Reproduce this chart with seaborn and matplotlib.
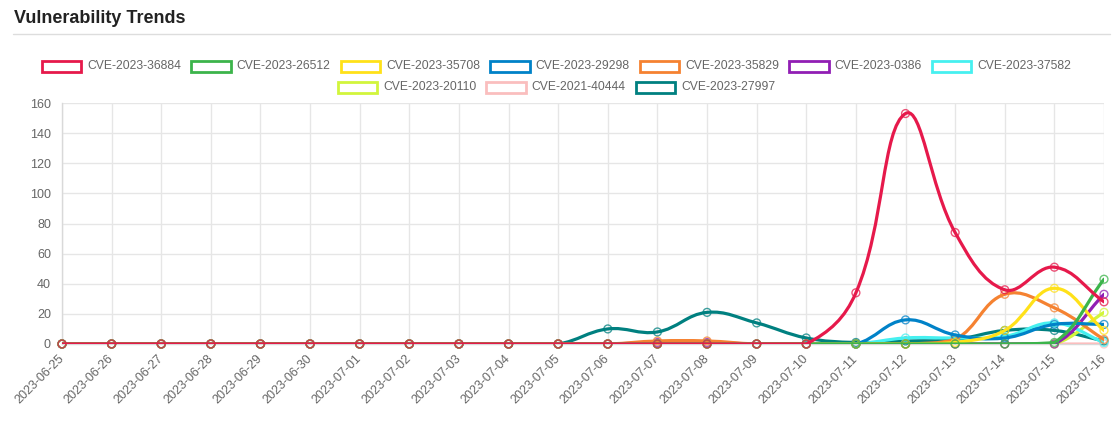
import numpy as np
import pandas as pd
import matplotlib
matplotlib.use("Agg")
import matplotlib.pyplot as plt
from matplotlib.path import Path
from matplotlib.patches import PathPatch, Rectangle
import seaborn as sns

dates = ["2023-06-25", "2023-06-26", "2023-06-27", "2023-06-28", "2023-06-29",
         "2023-06-30", "2023-07-01", "2023-07-02", "2023-07-03", "2023-07-04",
         "2023-07-05", "2023-07-06", "2023-07-07", "2023-07-08", "2023-07-09",
         "2023-07-10", "2023-07-11", "2023-07-12", "2023-07-13", "2023-07-14",
         "2023-07-15", "2023-07-16"]

series_names = ["CVE-2023-36884", "CVE-2023-26512", "CVE-2023-35708", "CVE-2023-29298",
                "CVE-2023-35829", "CVE-2023-0386", "CVE-2023-37582", "CVE-2023-20110",
                "CVE-2021-40444", "CVE-2023-27997"]

cve_36884 = [0, 0, 0, 0, 0, 0, 0, 0, 0, 0, 0, 0, 0, 0, 0, 0, 34, 153, 74, 36, 51, 28]
cve_26512 = [0, 0, 0, 0, 0, 0, 0, 0, 0, 0, 0, 0, 0, 0, 0, 0, 0, 0, 0, 0, 1, 43]
cve_35708 = [0, 0, 0, 0, 0, 0, 0, 0, 0, 0, 0, 0, 0, 0, 0, 0, 0, 0, 1, 9, 37, 9]
cve_29298 = [0, 0, 0, 0, 0, 0, 0, 0, 0, 0, 0, 0, 0, 0, 0, 0, 0, 16, 6, 4, 13, 13]
cve_35829 = [0, 0, 0, 0, 0, 0, 0, 0, 0, 0, 0, 0, 2, 2, 0, 0, 0, 0, 3, 33, 24, 3]
cve_0386 = [0, 0, 0, 0, 0, 0, 0, 0, 0, 0, 0, 0, 1, 1, 0, 0, 0, 0, 0, 0, 0, 33]
cve_37582 = [0, 0, 0, 0, 0, 0, 0, 0, 0, 0, 0, 0, 0, 0, 0, 0, 0, 4, 4, 5, 14, 1]
cve_20110 = [0, 0, 0, 0, 0, 0, 0, 0, 0, 0, 0, 0, 0, 0, 0, 0, 0, 0, 0, 0, 0, 21]
cve_40444 = [0, 0, 0, 0, 0, 0, 0, 0, 0, 0, 0, 0, 0, 0, 0, 0, 0, 0, 0, 0, 0, 0]
cve_27997 = [0, 0, 0, 0, 0, 0, 0, 0, 0, 0, 0, 10, 8, 21, 14, 4, 1, 2, 3, 9, 9, 2]

series_values = [cve_36884, cve_26512, cve_35708, cve_29298, cve_35829,
                 cve_0386, cve_37582, cve_20110, cve_40444, cve_27997]

colors = ["#e6194b", "#3cb44b", "#ffe119", "#0082c8", "#f58231",
          "#911eb4", "#46f0f0", "#d2f53c", "#fabebe", "#008080"]

y_ticks = [0, 20, 40, 60, 80, 100, 120, 140, 160]

W, H = 1118, 428
AX_L, AX_R, AX_T, AX_B = 62, 1104, 103, 344

sns.set_theme(style="white")
plt.rcParams["font.family"] = ["Liberation Sans", "DejaVu Sans"]

fig = plt.figure(figsize=(W / 100, H / 100), dpi=100)
ax = fig.add_axes([AX_L / W, (H - AX_B) / H, (AX_R - AX_L) / W, (AX_B - AX_T) / H])

n = len(dates)
xmin, xmax = 0, n - 1
ymin, ymax = y_ticks[0], y_ticks[-1]
sx = (AX_R - AX_L) / (xmax - xmin)
sy = (AX_B - AX_T) / (ymax - ymin)

rows = []
for name, vals in zip(series_names, series_values):
    for i, v in enumerate(vals):
        rows.append({"series": name, "idx": i, "value": v})
df = pd.DataFrame(rows)


def spline_path(vals, t=0.4):
    px = np.arange(len(vals)) * sx
    py = np.array(vals, dtype=float) * sy
    m = len(vals)
    prev_cp, next_cp = [], []
    for i in range(m):
        p0 = (px[i - 1], py[i - 1]) if i > 0 else (px[i], py[i])
        p1 = (px[i], py[i])
        p2 = (px[i + 1], py[i + 1]) if i < m - 1 else (px[i], py[i])
        d01 = np.hypot(p1[0] - p0[0], p1[1] - p0[1])
        d12 = np.hypot(p2[0] - p1[0], p2[1] - p1[1])
        tot = d01 + d12
        s01 = d01 / tot if tot else 0
        s12 = d12 / tot if tot else 0
        fa, fb = t * s01, t * s12
        pc = [p1[0] - fa * (p2[0] - p0[0]), p1[1] - fa * (p2[1] - p0[1])]
        nc = [p1[0] + fb * (p2[0] - p0[0]), p1[1] + fb * (p2[1] - p0[1])]
        for c in (pc, nc):
            c[0] = min(max(c[0], 0), (xmax - xmin) * sx)
            c[1] = min(max(c[1], 0), (ymax - ymin) * sy)
        prev_cp.append(pc)
        next_cp.append(nc)
    verts = [(px[0] / sx, py[0] / sy)]
    codes = [Path.MOVETO]
    for i in range(1, m):
        verts += [(next_cp[i - 1][0] / sx, next_cp[i - 1][1] / sy),
                  (prev_cp[i][0] / sx, prev_cp[i][1] / sy),
                  (px[i] / sx, py[i] / sy)]
        codes += [Path.CURVE4] * 3
    return Path(verts, codes)


k = len(series_names)
for j, (name, vals, col) in enumerate(zip(series_names, series_values, colors)):
    z = 10 + 2 * (k - j)
    ax.add_patch(PathPatch(spline_path(vals), facecolor="none", edgecolor=col,
                           lw=2.3, zorder=z, capstyle="round", joinstyle="round"))
    sub = df[df["series"] == name]
    sns.scatterplot(data=sub, x="idx", y="value", ax=ax, s=32, marker="o",
                    facecolor="none", edgecolor=matplotlib.colors.to_rgba(col, 0.75),
                    linewidth=1.0, zorder=z + 1, legend=False, clip_on=False)

ax.set_xlim(xmin, xmax)
ax.set_ylim(ymin, ymax)
ax.set_xticks(range(n))
ax.set_xticklabels(dates, rotation=45, ha="right", va="center", rotation_mode="anchor")
ax.set_yticks(y_ticks)
ax.set_yticklabels([str(v) for v in y_ticks])
ax.set_xlabel("")
ax.set_ylabel("")
grid_c = "#e6e6e6"
ax.grid(True, color=grid_c, lw=1, alpha=1)
ax.tick_params(axis="both", color=grid_c, labelcolor="#666666", labelsize=9,
               length=7.5, width=1, direction="out")
ax.tick_params(axis="x", pad=2)
ax.tick_params(axis="y", pad=0.5)
for s in ["top", "right"]:
    ax.spines[s].set_visible(False)
for s in ["left", "bottom"]:
    ax.spines[s].set_color("#d9d9d9")
    ax.spines[s].set_linewidth(1)
ax.set_axisbelow(True)

fig.text(14 / W, 1 - 18.7 / H, "Vulnerability Trends", fontsize=13, fontweight="bold",
         color="#222222", ha="left", va="center")
fig.add_artist(plt.Line2D([13 / W, 1110 / W], [1 - 34 / H, 1 - 34 / H],
                          transform=fig.transFigure, color="#dddddd", lw=1))

legend_rows = [(list(range(0, 7)), 66), (list(range(7, 10)), 87.5)]
renderer = fig.canvas.get_renderer()
box_w, box_h, gap_box_text, gap_item = 39.5, 11, 6, 10
legend_center = 556.5
for idxs, yc in legend_rows:
    widths = []
    texts = []
    for i in idxs:
        t = fig.text(0, 0, series_names[i], fontsize=8.7, color="#666666",
                     ha="left", va="center")
        bb = t.get_window_extent(renderer)
        widths.append(bb.width)
        texts.append(t)
    total = sum(box_w + gap_box_text + w for w in widths) + gap_item * (len(idxs) - 1)
    x = legend_center - total / 2
    for i, t, w in zip(idxs, texts, widths):
        fig.add_artist(Rectangle((x / W, 1 - (yc + box_h / 2) / H), box_w / W, box_h / H,
                                 transform=fig.transFigure, facecolor="white",
                                 edgecolor=colors[i], lw=2.0))
        t.set_position(((x + box_w + gap_box_text) / W, 1 - yc / H))
        x += box_w + gap_box_text + w + gap_item

fig.savefig("out.png", dpi=100)
